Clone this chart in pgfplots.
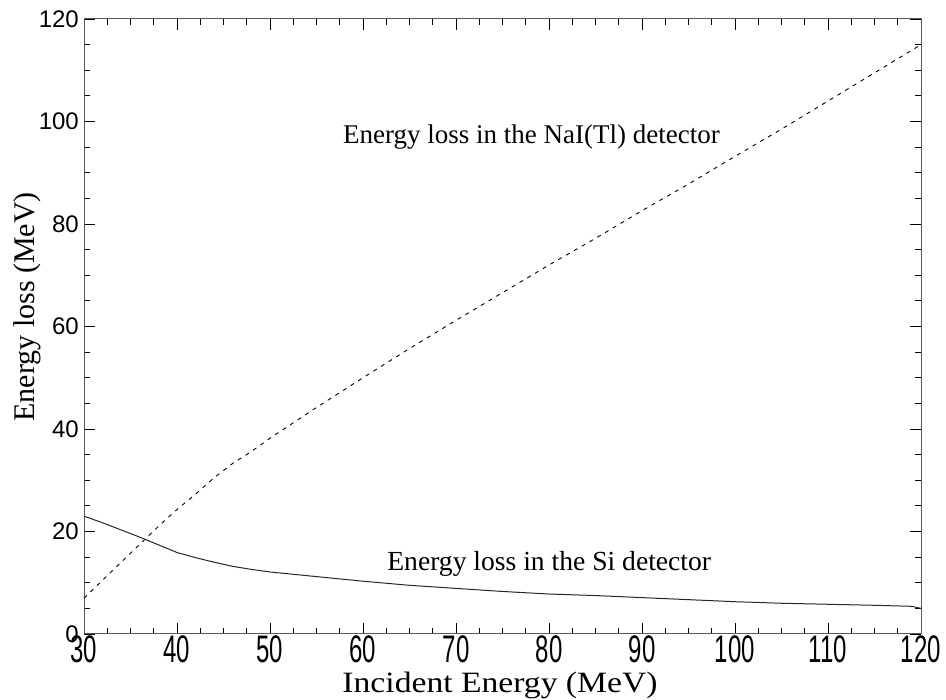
\documentclass[border=0pt]{standalone}
\usepackage{pgfplots}
\pgfplotsset{compat=1.18}
\usepackage{fontspec}
\usepackage{graphicx}
\usetikzlibrary{calc}
\setmainfont{Liberation Serif}
\newfontfamily\arial{Liberation Sans}
\begin{document}
\begin{tikzpicture}
\begin{axis}[
  name=ax,
  scale only axis,
  width=837pt, height=615pt,
  xmin=30, xmax=120, ymin=0, ymax=120,
  xtick={30,40,...,120}, ytick={0,20,...,120},
  minor x tick num=3, minor y tick num=3,
  major tick length=11pt, minor tick length=6pt,
  tick align=inside,
  axis line style={black!65, line width=1pt},
  tick style={black, line width=0.8pt},
  /pgf/number format/assume math mode=true,
  yticklabel style={font=\arial\fontsize{24}{24}\selectfont, anchor=east, inner sep=0pt, xshift=-5pt},
  xticklabel={\scalebox{1}[1.6]{\pgfmathprintnumber{\tick}}},
  xticklabel style={font=\arial\fontsize{24}{24}\selectfont, anchor=north, inner sep=0pt, yshift=-1pt},
  xlabel={\scalebox{1.14}[1]{Incident Energy (MeV)}},
  ylabel={Energy loss (MeV)},
  xlabel style={font=\fontsize{29.5}{29.5}\selectfont, at={(axis description cs:0.497,0)}, anchor=base, yshift=-58pt, inner sep=0pt},
  ylabel style={font=\fontsize{30}{30}\selectfont, at={(axis description cs:0,0.532)}, anchor=base, yshift=49pt, inner sep=0pt},
  clip=false,
]
\addplot[black, line width=0.9pt, dash pattern=on 4pt off 5pt] coordinates {
(30,7)(32,10.5)(34,14)(36,17.5)(38,21)(40,24.3)(42,27.3)(44,30.5)(46,33.3)(48,35.6)(50,38.2)
(55,44.2)(60,50)(65,55.7)(70,61.2)(75,66.6)(80,72)(85,77.2)(90,82.6)(95,87.8)(100,93.2)
(105,98.5)(110,104)(115,109.5)(120,115)};
\addplot[black!85, line width=1pt] coordinates {
(30,23)(32,21.7)(34,20.3)(36,18.9)(38,17.4)(40,15.9)(42,14.9)(44,14)(46,13.2)(48,12.6)(50,12.1)
(55,11.2)(60,10.3)(65,9.5)(70,8.9)(75,8.3)(80,7.8)(85,7.5)(90,7.1)(95,6.7)(100,6.3)
(105,6.0)(110,5.8)(115,5.6)(119,5.4)(120,5.0)};
\node[anchor=base west, inner sep=0pt, font=\fontsize{27}{27}\selectfont] at (axis cs:57.85,95.8) {Energy loss in the NaI(Tl) detector};
\node[anchor=base west, inner sep=0pt, font=\fontsize{27.6}{27.6}\selectfont] at (axis cs:62.6,12.3) {Energy loss in the Si detector};
\end{axis}
\pgfresetboundingbox
\path[use as bounding box] ($(ax.south west)+(-84pt,-66pt)$) rectangle ($(ax.north east)+(25pt,19pt)$);
\end{tikzpicture}
\end{document}
